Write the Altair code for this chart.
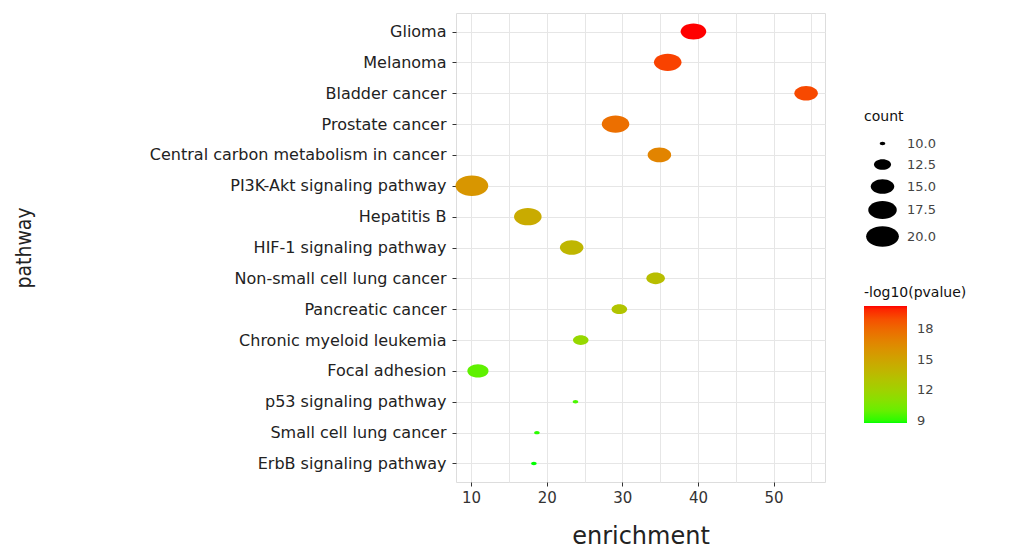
import altair as alt
import pandas as pd

pathways = ["Glioma", "Melanoma", "Bladder cancer", "Prostate cancer",
            "Central carbon metabolism in cancer", "PI3K-Akt signaling pathway",
            "Hepatitis B", "HIF-1 signaling pathway", "Non-small cell lung cancer",
            "Pancreatic cancer", "Chronic myeloid leukemia", "Focal adhesion",
            "p53 signaling pathway", "Small cell lung cancer", "ErbB signaling pathway"]
enrichment = [39.4, 36.0, 54.3, 29.1, 34.9, 10.1, 17.5, 23.3, 34.4, 29.6, 24.5, 10.9, 23.8, 18.7, 18.3]
count = [16, 17, 15, 17, 15, 20, 17, 15, 13, 12, 12, 14, 10, 10, 10]
neglog10p = [20.3, 19.4, 19.2, 17.8, 16.8, 15.8, 14.6, 13.9, 13.4, 13.0, 11.6, 9.8, 9.4, 9.0, 8.8]

size_legend_values = [10, 12.5, 15, 17.5, 20]
color_legend_values = [9, 12, 15, 18]
x_ticks = [10, 15, 20, 25, 30, 35, 40, 45, 50, 55]

df = pd.DataFrame({"pathway": pathways, "enrichment": enrichment,
                   "count": count, "neglog": neglog10p})

ELLIPSE = "M -1.6 0 A 1.6 1 0 1 1 1.6 0 A 1.6 1 0 1 1 -1.6 0 Z"
LABEL_FONT = "DejaVu Sans"

chart = alt.Chart(df).mark_point(
    filled=True, opacity=1, shape=ELLIPSE, strokeWidth=0
).encode(
    x=alt.X("enrichment:Q",
            scale=alt.Scale(domain=[8.0, 56.8], nice=False, zero=False),
            axis=alt.Axis(
                title="enrichment", values=x_ticks,
                labelExpr="datum.value % 10 === 0 ? datum.label : ''",
                labelFont=LABEL_FONT, labelFontSize=15, labelColor="#333333",
                labelPadding=4,
                tickColor={"condition": {"test": "datum.value % 10 !== 0", "value": "transparent"},
                           "value": "#333333"},
                tickSize=4, domain=False, grid=True,
                gridColor="#E6E6E6", gridWidth=1,
                titleFont=LABEL_FONT, titleFontSize=24, titleFontWeight="normal",
                titleColor="#222222", titlePadding=19)),
    y=alt.Y("pathway:N", sort=pathways,
            scale=alt.Scale(type="point", padding=0.6),
            axis=alt.Axis(
                title="pathway", labelFont=LABEL_FONT, labelFontSize=16,
                labelLimit=0,
                labelColor="#222222", labelPadding=6, tickSize=4,
                tickColor="#333333", domain=False, grid=True,
                gridColor="#E6E6E6", gridWidth=1,
                minExtent=420, maxExtent=420,
                titleFont="Liberation Sans Narrow, DejaVu Sans Condensed, Liberation Sans",
                titleFontSize=21, titleFontWeight="normal", titleColor="#222222",
                titlePadding=2)),
    size=alt.Size("count:Q",
                  scale=alt.Scale(domain=[10, 20], range=[12, 420], zero=False),
                  legend=alt.Legend(
                      title="count", values=size_legend_values, format=".1f",
                      orient="none", legendX=408, legendY=97,
                      symbolType=ELLIPSE, symbolFillColor="black",
                      symbolStrokeColor="black", symbolStrokeWidth=0,
                      symbolOpacity=1, symbolOffset=8, labelOffset=14,
                      rowPadding=7,
                      titleFont=LABEL_FONT, titleFontSize=14, titleFontWeight="normal",
                      titleColor="#111111", titlePadding=13,
                      labelFont=LABEL_FONT, labelFontSize=13, labelColor="#444444")),
    color=alt.Color("neglog:Q",
                    scale=alt.Scale(domain=[8.8, 20.3], range=["#00FF00", "#FF0000"],
                                    interpolate="lab", nice=False, zero=False),
                    legend=alt.Legend(
                        title="-log10(pvalue)", values=color_legend_values,
                        orient="none", legendX=408, legendY=273,
                        gradientLength=117, gradientThickness=43,
                        gradientStrokeWidth=0, labelOffset=10,
                        titleFont=LABEL_FONT, titleFontSize=14, titleFontWeight="normal",
                        titleColor="#111111", titlePadding=6,
                        labelFont=LABEL_FONT, labelFontSize=13, labelColor="#444444")),
).properties(
    width=369, height=469,
    padding={"left": 5, "top": 5, "right": 5, "bottom": 0},
).configure_view(
    stroke="#555555", strokeWidth=1, fill="white"
).configure(background="white")

chart.save("out.html", embed_options={"renderer": "svg", "actions": False})
